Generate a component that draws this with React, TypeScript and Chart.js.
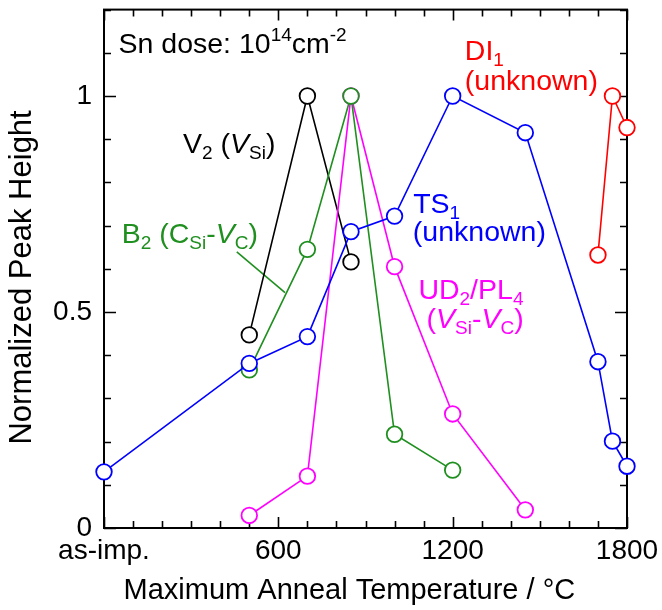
import React, { useEffect, useRef } from "react";
import { Chart, registerables } from "chart.js";

Chart.register(...registerables);

// ---- Data (x = maximum anneal temperature in °C, 0 = as-implanted) ----
const ts1Temps = [0, 500, 700, 850, 1000, 1200, 1450, 1700, 1750, 1800];
const ts1Values = [0.13, 0.381, 0.443, 0.686, 0.722, 1.0, 0.915, 0.385, 0.201, 0.143];

const v2Temps = [500, 700, 850];
const v2Values = [0.447, 1.0, 0.616];

const b2Temps = [500, 700, 850, 1000, 1200];
const b2Values = [0.366, 0.645, 1.0, 0.217, 0.134];

const ud2Temps = [500, 700, 850, 1000, 1200, 1450];
const ud2Values = [0.029, 0.12, 1.0, 0.605, 0.264, 0.042];

const di1Temps = [1700, 1750, 1800];
const di1Values = [0.632, 1.0, 0.927];

// leader line from the B2 label to its curve
const b2LeaderTemps = [457, 623];
const b2LeaderValues = [0.639, 0.545];

// axis ticks
const xMin = 0;
const xMax = 1800;
const xStep = 100;
const xLabelled = [0, 600, 1200, 1800];
const xTickText = ["as-imp.", "600", "1200", "1800"];
const yMin = 0;
const yMax = 1.2;
const yStep = 0.1;
const yLabelled = [0, 0.5, 1];
const yTickText = ["0", "0.5", "1"];

const C_BLUE = "#0000ff";
const C_BLACK = "#000000";
const C_GREEN = "#1f8f1f";
const C_MAGENTA = "#ff00ff";
const C_RED = "#ff0000";

const FONT = '"Liberation Sans", Arial, Helvetica, sans-serif';

type Seg = { t: string; i?: boolean; s?: "sub" | "sup" };
type Note = { x: number; y: number; color: string; segs: Seg[] };

const notes: Note[] = [
  { x: 50, y: 1.1, color: C_BLACK, segs: [{ t: "Sn dose: 10" }, { t: "14", s: "sup" }, { t: "cm" }, { t: "-2", s: "sup" }] },
  { x: 272, y: 0.868, color: C_BLACK, segs: [{ t: "V" }, { t: "2", s: "sub" }, { t: " (" }, { t: "V", i: true }, { t: "Si", s: "sub" }, { t: ")" }] },
  { x: 61, y: 0.66, color: C_GREEN, segs: [{ t: "B" }, { t: "2", s: "sub" }, { t: " (C" }, { t: "Si", s: "sub" }, { t: "-" }, { t: "V", i: true }, { t: "C", s: "sub" }, { t: ")" }] },
  { x: 1064, y: 0.729, color: C_BLUE, segs: [{ t: "TS" }, { t: "1", s: "sub" }] },
  { x: 1063, y: 0.664, color: C_BLUE, segs: [{ t: "(unknown)" }] },
  { x: 1082, y: 0.53, color: C_MAGENTA, segs: [{ t: "UD" }, { t: "2", s: "sub" }, { t: "/PL" }, { t: "4", s: "sub" }] },
  { x: 1110, y: 0.464, color: C_MAGENTA, segs: [{ t: "(" }, { t: "V", i: true }, { t: "Si", s: "sub" }, { t: "-" }, { t: "V", i: true }, { t: "C", s: "sub" }, { t: ")" }] },
  { x: 1242, y: 1.083, color: C_RED, segs: [{ t: "DI" }, { t: "1", s: "sub" }] },
  { x: 1242, y: 1.014, color: C_RED, segs: [{ t: "(unknown)" }] },
];

const NOTE_SIZE = 28.5;

function drawRich(ctx: CanvasRenderingContext2D, x: number, y: number, segs: Seg[], color: string, size: number) {
  let cx = x;
  ctx.fillStyle = color;
  ctx.textBaseline = "alphabetic";
  ctx.textAlign = "left";
  for (const sg of segs) {
    const fs = sg.s ? Math.round(size * 0.66) : size;
    ctx.font = `${sg.i ? "italic " : ""}${fs}px ${FONT}`;
    const dy = sg.s === "sub" ? size * 0.22 : sg.s === "sup" ? -size * 0.42 : 0;
    ctx.fillText(sg.t, cx, y + dy);
    cx += ctx.measureText(sg.t).width;
  }
}

function near(v: number, list: number[], eps: number) {
  return list.findIndex((l) => Math.abs(l - v) < eps);
}

const framePlugin = {
  id: "frameTicks",
  beforeDatasetsDraw(chart: any) {
    const { ctx, chartArea: a, scales } = chart;
    const xs = scales.x;
    const ys = scales.y;
    ctx.save();
    ctx.strokeStyle = "#000";
    ctx.lineWidth = 1.6;
    ctx.beginPath();
    for (let k = 0; k <= Math.round((xMax - xMin) / xStep); k++) {
      const v = xMin + k * xStep;
      const px = Math.round(xs.getPixelForValue(v)) + 0.5;
      const major = near(v, xLabelled, 1) >= 0;
      const len = major ? 11 : 7;
      ctx.moveTo(px, a.bottom);
      ctx.lineTo(px, a.bottom - len);
      ctx.moveTo(px, a.top);
      ctx.lineTo(px, a.top + len);
    }
    for (let k = 0; k <= Math.round((yMax - yMin) / yStep); k++) {
      const v = yMin + k * yStep;
      const py = Math.round(ys.getPixelForValue(v)) + 0.5;
      const major = near(v, yLabelled, 1e-6) >= 0;
      const len = major ? 12 : 7;
      ctx.moveTo(a.left, py);
      ctx.lineTo(a.left + len, py);
      ctx.moveTo(a.right, py);
      ctx.lineTo(a.right - len, py);
    }
    ctx.stroke();
    ctx.lineWidth = 2;
    ctx.strokeRect(a.left, a.top, a.right - a.left, a.bottom - a.top);
    ctx.restore();
  },
  afterDatasetsDraw(chart: any) {
    const { ctx, scales } = chart;
    const xs = scales.x;
    const ys = scales.y;
    ctx.save();
    for (const n of notes) {
      drawRich(ctx, xs.getPixelForValue(n.x), ys.getPixelForValue(n.y), n.segs, n.color, NOTE_SIZE);
    }
    ctx.restore();
  },
};

function toPoints(xs: number[], ys: number[]) {
  return xs.map((x, i) => ({ x, y: ys[i] }));
}

function series(label: string, xs: number[], ys: number[], color: string) {
  return {
    label,
    data: toPoints(xs, ys),
    borderColor: color,
    backgroundColor: "#ffffff",
    borderWidth: 1.6,
    pointRadius: 7.8,
    pointBorderWidth: 1.8,
    pointBackgroundColor: "#ffffff",
    pointBorderColor: color,
    tension: 0,
    clip: false as any,
  };
}

export default function App() {
  const ref = useRef<HTMLCanvasElement | null>(null);
  useEffect(() => {
    if (!ref.current) return;
    const chart = new Chart(ref.current, {
      type: "line",
      data: {
        datasets: [
          series("TS1", ts1Temps, ts1Values, C_BLUE),
          series("B2", b2Temps, b2Values, C_GREEN),
          series("UD2/PL4", ud2Temps, ud2Values, C_MAGENTA),
          series("V2", v2Temps, v2Values, C_BLACK),
          series("DI1", di1Temps, di1Values, C_RED),
          {
            label: "B2 leader",
            data: toPoints(b2LeaderTemps, b2LeaderValues),
            borderColor: C_GREEN,
            borderWidth: 1.6,
            pointRadius: 0,
            tension: 0,
          } as any,
        ],
      },
      options: {
        responsive: true,
        maintainAspectRatio: false,
        animation: false,
        events: [],
        layout: { padding: { top: 6, right: 35, left: 0, bottom: 0 } },
        plugins: { legend: { display: false }, tooltip: { enabled: false } },
        scales: {
          x: {
            type: "linear",
            min: xMin,
            max: xMax,
            grid: { display: false, drawTicks: false },
            border: { display: false },
            afterBuildTicks: (s: any) => {
              s.ticks = xLabelled.map((v) => ({ value: v }));
            },
            afterFit: (s: any) => {
              s.height = 82;
              s.paddingLeft = 0;
              s.paddingRight = 0;
              s.paddingTop = 0;
              s.paddingBottom = 0;
            },
            ticks: {
              autoSkip: false,
              maxRotation: 0,
              padding: 6,
              color: "#000",
              font: { family: FONT, size: 28 },
              callback: (v: any) => {
                const i = near(Number(v), xLabelled, 1);
                return i >= 0 ? xTickText[i] : "";
              },
            },
            title: {
              display: true,
              text: "Maximum Anneal Temperature / °C    ",
              color: "#000",
              font: { family: FONT, size: 29 },
              padding: { top: 0, bottom: 2 },
            },
          },
          y: {
            type: "linear",
            min: yMin,
            max: yMax,
            grid: { display: false, drawTicks: false },
            border: { display: false },
            afterBuildTicks: (s: any) => {
              s.ticks = yLabelled.map((v) => ({ value: v }));
            },
            afterFit: (s: any) => {
              s.width = 104;
              s.paddingLeft = 0;
              s.paddingRight = 0;
              s.paddingTop = 0;
              s.paddingBottom = 0;
            },
            ticks: {
              autoSkip: false,
              padding: 12,
              color: "#000",
              font: { family: FONT, size: 28 },
              callback: (v: any) => {
                const i = near(Number(v), yLabelled, 1e-6);
                return i >= 0 ? yTickText[i] : "";
              },
            },
            title: {
              display: true,
              text: "Normalized Peak Height  ",
              color: "#000",
              font: { family: FONT, size: 31 },
              padding: { top: 4, bottom: 0 },
            },
          },
        },
      },
      plugins: [framePlugin],
    });
    return () => chart.destroy();
  }, []);
  return (
    <div style={{ position: "absolute", left: 0, top: 0, width: 662, height: 610, background: "#fff" }}>
      <canvas ref={ref} />
    </div>
  );
}
